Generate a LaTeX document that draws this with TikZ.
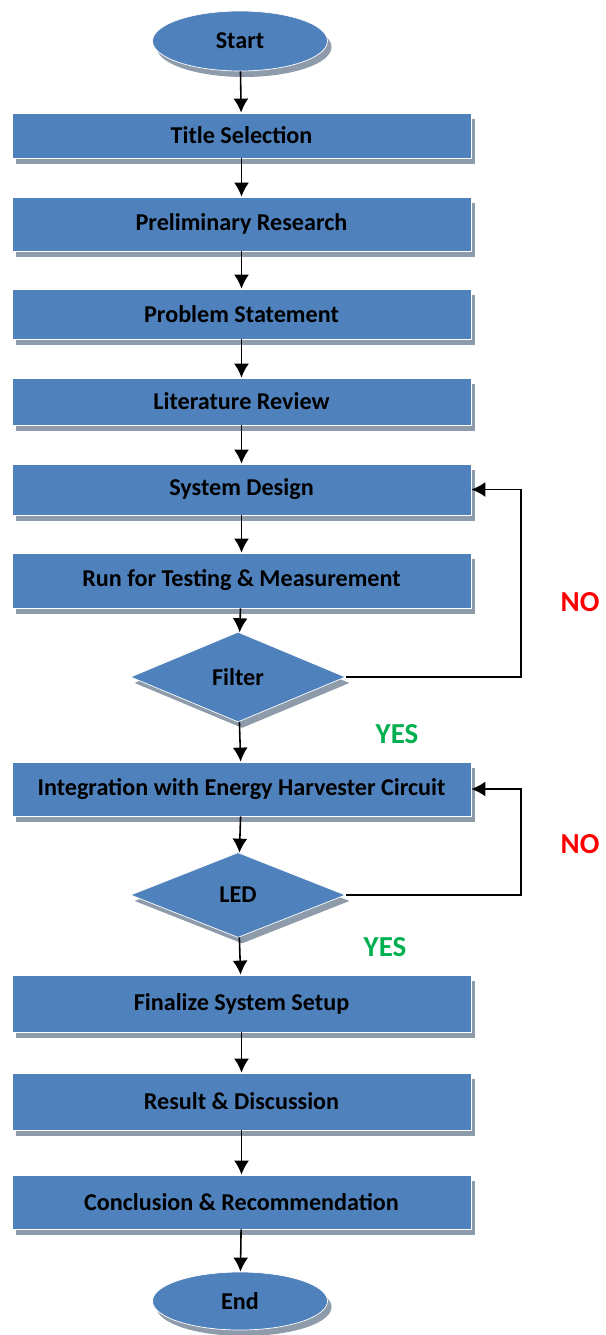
\documentclass[tikz,border=0pt]{standalone}
\usepackage{fontspec}
\setmainfont{Carlito}
\usetikzlibrary{shapes.geometric,shadows,arrows.meta}

\definecolor{boxblue}{HTML}{4F81BD}
\definecolor{boxshade}{HTML}{8E9BAA}
\definecolor{yesgreen}{HTML}{00B050}

\tikzset{
	stepbox/.style={rectangle, draw=white, line width=0.4pt, fill=boxblue,
		minimum width=9.18cm, inner sep=0pt, font=\bfseries\fontsize{13.75}{15}\selectfont,
		drop shadow={shadow xshift=2.3pt, shadow yshift=-3.4pt, fill=boxshade, opacity=1}},
	termbox/.style={stepbox, ellipse, minimum width=3.5cm, minimum height=1.2cm},
	testbox/.style={stepbox, diamond, minimum width=4.3cm, minimum height=1.8cm},
	flow/.style={-{Latex[length=8pt,width=8.5pt]}, line width=0.9pt},
	yeslabel/.style={text=yesgreen, font=\bfseries\fontsize{16.5}{18}\selectfont},
	nolabel/.style={text=red, font=\bfseries\fontsize{16.5}{18}\selectfont}
}

\begin{document}
\begin{tikzpicture}[x=0.02cm, y=-0.02cm]
		\useasboundingbox ( 0, 0 ) rectangle ( 605, 1335 );

		% начало
		\node [termbox] (start) at ( 240, 41 ) {Start};

		% этапы
		\node [stepbox, minimum height=0.90cm] (title)   at ( 241.5, 135.5 ) {Title Selection};
		\node [stepbox, minimum height=1.08cm] (prelim)  at ( 241.5, 224 )   {Preliminary Research};
		\node [stepbox, minimum height=1.00cm] (problem) at ( 241.5, 314 )   {Problem Statement};
		\node [stepbox, minimum height=0.94cm] (review)  at ( 241.5, 401.5 ) {Literature Review};
		\node [stepbox, minimum height=1.02cm] (design)  at ( 241.5, 489.5 ) {System Design};
		\node [stepbox, minimum height=1.10cm] (testing) at ( 241.5, 580.5 ) {Run for Testing \& Measurement};

		% проверка фильтра
		\node [testbox] (filter) at ( 238, 677 ) {Filter};

		\node [stepbox, minimum height=1.08cm] (harvest) at ( 241.5, 789 ) {Integration with Energy Harvester Circuit};

		% проверка светодиода
		\node [testbox, minimum height=1.70cm] (led) at ( 238, 895 ) {LED};

		\node [stepbox, minimum height=1.14cm] (setup)   at ( 241.5, 1003.5 ) {Finalize System Setup};
		\node [stepbox, minimum height=1.14cm] (result)  at ( 241.5, 1101.5 ) {Result \& Discussion};
		\node [stepbox, minimum height=1.08cm] (concl)   at ( 241.5, 1202 )   {Conclusion \& Recommendation};

		% конец
		\node [termbox, minimum height=1.16cm] (finish) at ( 240, 1301 ) {End};

		% стрелки
		\draw [flow] (start) -- (title);
		\draw [flow] (title) -- (prelim);
		\draw [flow] (prelim) -- (problem);
		\draw [flow] (problem) -- (review);
		\draw [flow] (review) -- (design);
		\draw [flow] (design) -- (testing);
		\draw [flow] (testing) -- (filter);
		\draw [flow] (filter) -- (harvest);
		\draw [flow] (harvest) -- (led);
		\draw [flow] (led) -- (setup);
		\draw [flow] (setup) -- (result);
		\draw [flow] (result) -- (concl);
		\draw [flow] (concl) -- (finish);

		% обратные связи
		\coordinate (filterloop) at ( 521, 489.5 );
		\coordinate (ledloop)    at ( 521, 789 );
		\draw [flow] (filter.east) -| (filterloop) -- (design.east);
		\draw [flow] (led.east) -| (ledloop) -- (harvest.east);

		% подписи
		\node [nolabel]  (nofilter)  at ( 580, 602 ) {NO};
		\node [yeslabel] (yesfilter) at ( 397, 734 ) {YES};
		\node [nolabel]  (noled)     at ( 580, 844 ) {NO};
		\node [yeslabel] (yesled)    at ( 385, 947 ) {YES};
	\end{tikzpicture}
\end{document}
